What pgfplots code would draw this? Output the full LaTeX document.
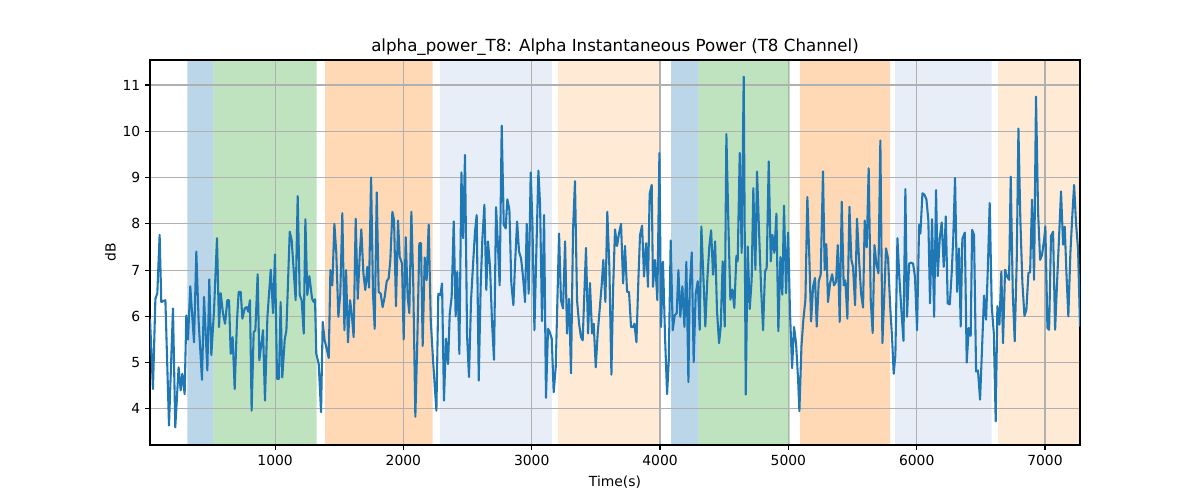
\documentclass[border=0pt]{standalone}
\usepackage{pgfplots}
\pgfplotsset{compat=1.18}
\usepackage{fontspec}
\setmainfont{DejaVu Sans}
\definecolor{tabblue}{HTML}{1F77B4}
\definecolor{tabgreen}{HTML}{2CA02C}
\definecolor{taborange}{HTML}{FF7F0E}
\definecolor{lblue}{HTML}{AEC7E8}
\definecolor{peach}{HTML}{FFBB78}
\definecolor{gridgray}{HTML}{B0B0B0}
\begin{document}
\begin{tikzpicture}
\begin{axis}[
  at={(108pt,39.6pt)}, anchor=south west,
  scale only axis, width=669.6pt, height=277.2pt,
  set layers,
  xmin=25, xmax=7273, ymin=3.22, ymax=11.54,
  xtick={1000,2000,3000,4000,5000,6000,7000},
  ytick={4,5,6,7,8,9,10,11},
  /pgf/number format/1000 sep={},
  /pgf/number format/assume math mode=true,
  tick label style={font=\fontsize{10}{12}\selectfont, black},
  tick align=outside, tick pos=left,
  major tick length=3.5pt,
  every tick/.style={black, line width=0.8pt},
  axis line style={black, line width=0.8pt},
  grid=major,
  major grid style={gridgray, line width=0.8pt},
  title={alpha\_power\_T8: Alpha Instantaneous Power (T8 Channel)},
  title style={font=\fontsize{12}{14}\selectfont, yshift=-6.5pt},
  xlabel={Time(s)}, ylabel={dB},
  label style={font=\fontsize{10}{12}\selectfont},
  xlabel style={yshift=-1pt},
  ylabel style={yshift=-2pt},
  span/.style={on layer=axis background, fill opacity=0.3, draw=none},
]
% shaded phases
\addplot[span, fill=tabblue] coordinates {(316,3.22) (518,3.22) (518,11.54) (316,11.54)} \closedcycle;
\addplot[span, fill=tabgreen] coordinates {(518,3.22) (1324,3.22) (1324,11.54) (518,11.54)} \closedcycle;
\addplot[span, fill=taborange] coordinates {(1389,3.22) (2228,3.22) (2228,11.54) (1389,11.54)} \closedcycle;
\addplot[span, fill=lblue] coordinates {(2285,3.22) (3156,3.22) (3156,11.54) (2285,11.54)} \closedcycle;
\addplot[span, fill=peach] coordinates {(3203,3.22) (4005,3.22) (4005,11.54) (3203,11.54)} \closedcycle;
\addplot[span, fill=tabblue] coordinates {(4086,3.22) (4298,3.22) (4298,11.54) (4086,11.54)} \closedcycle;
\addplot[span, fill=tabgreen] coordinates {(4298,3.22) (5011,3.22) (5011,11.54) (4298,11.54)} \closedcycle;
\addplot[span, fill=taborange] coordinates {(5090,3.22) (5793,3.22) (5793,11.54) (5090,11.54)} \closedcycle;
\addplot[span, fill=lblue] coordinates {(5832,3.22) (6585,3.22) (6585,11.54) (5832,11.54)} \closedcycle;
\addplot[span, fill=peach] coordinates {(6634,3.22) (7273,3.22) (7273,11.54) (6634,11.54)} \closedcycle;
% signal
\addplot[tabblue, line width=1.5pt, line join=round, no markers] coordinates {
(25,5.95)(48,4.43)(67,6.38)(82,6.5)(100,7.76)(113,6.31)(145,6.35)(173,3.64)(204,6.17)(222,3.6)(248,4.9)(264,4.4)(277,4.76)(295,4.32)(308,6.02)(321,5.5)(339,6.65)(368,5.44)(386,7.4)(404,5.9)(430,4.63)(446,6.42)(472,4.83)(487,6.8)(503,5.16)(524,6.13)(547,7.69)(563,5.77)(576,6.5)(594,6.06)(610,5.84)(628,6.35)(641,6.35)(654,5.19)(669,5.55)(685,4.43)(703,5.91)(716,6.53)(732,6.53)(745,5.95)(763,6.17)(778,6.2)(791,6.1)(804,6.35)(817,3.96)(833,5.66)(846,5.7)(864,6.91)(877,5.05)(906,5.7)(921,4.18)(940,5.99)(966,7.01)(984,6.07)(999,7.34)(1015,4.65)(1030,4.65)(1043,6.31)(1056,4.68)(1075,5.5)(1088,5.7)
(1114,7.83)(1129,7.65)(1160,6.35)(1176,8.6)(1192,6.46)(1207,6.35)(1223,5.63)(1236,8.1)(1251,6.46)(1267,6.87)(1288,6.38)(1301,6.31)(1311,6.37)(1321,5.19)(1340,4.97)(1358,3.93)(1371,5.88)(1386,5.48)(1402,5.3)(1418,5.1)(1431,7.0)(1446,6.67)(1462,8.0)(1477,7.36)(1493,5.99)(1508,6.49)(1524,8.23)(1540,5.7)(1553,7.0)(1568,5.44)(1584,6.35)(1597,6.06)(1612,5.55)(1628,8.11)(1644,6.38)(1659,7.29)(1672,7.88)(1688,6.93)(1703,6.57)(1719,7.07)(1732,6.62)(1748,9.0)(1763,6.49)(1776,5.73)(1792,8.68)(1807,6.53)(1823,6.49)(1838,6.2)(1854,6.42)(1870,6.76)(1885,6.82)(1898,7.22)(1914,8.26)(1927,8.08)(1942,6.22)(1958,8.07)(1971,7.29)(1989,7.14)(2002,5.5)(2018,7.71)(2033,6.42)(2046,6.07)(2062,8.26)(2077,6.64)(2093,3.83)(2109,5.55)(2124,7.58)(2137,7.58)(2150,5.36)
(2166,7.27)(2181,6.78)(2197,7.98)(2213,5.91)(2231,5.05)(2257,3.96)(2272,6.49)(2288,6.46)(2301,6.71)(2316,4.18)(2332,5.52)(2348,4.97)(2361,6.06)(2376,6.42)(2392,8.05)(2407,6.0)(2420,6.96)(2436,5.19)(2452,9.11)(2465,7.69)(2480,9.49)(2496,5.59)(2511,4.69)(2527,6.35)(2543,7.14)(2558,7.83)(2571,8.19)(2587,4.61)(2602,6.64)(2615,7.65)(2631,8.41)(2646,6.57)(2659,7.62)(2675,7.07)(2691,5.84)(2706,5.06)(2722,8.36)(2737,7.51)(2750,6.67)(2766,10.12)(2782,7.98)(2797,7.9)(2810,8.53)(2826,8.3)(2841,6.71)(2857,6.24)(2870,7.14)(2886,8.05)(2901,7.4)(2917,7.25)(2932,6.86)(2948,6.31)(2961,8.0)(2976,6.49)(2992,9.11)(3005,8.05)(3021,5.7)(3036,7.4)(3052,9.15)(3065,8.41)(3080,5.9)(3096,8.19)(3111,4.24)(3127,5.73)(3140,5.66)(3156,5.52)(3171,4.36)(3187,4.9)
(3213,7.79)(3228,6.35)(3244,6.17)(3260,7.62)(3275,5.63)(3291,6.38)(3306,4.77)(3322,7.87)(3337,8.92)(3353,6.35)(3369,5.84)(3384,5.55)(3397,5.48)(3410,6.49)(3423,7.48)(3439,5.63)(3454,6.72)(3470,5.63)(3483,5.84)(3499,4.9)(3514,5.63)(3530,6.17)(3545,6.67)(3558,7.22)(3574,6.31)(3589,8.26)(3605,7.07)(3621,4.74)(3634,6.57)(3649,7.88)(3665,7.52)(3680,7.79)(3696,8.0)(3712,6.71)(3727,7.52)(3743,6.53)(3758,6.53)(3774,5.77)(3790,5.77)(3800,5.84)(3816,5.44)(3831,6.78)(3844,7.76)(3860,7.96)(3875,6.86)(3891,7.58)(3906,6.64)(3919,8.65)(3935,8.84)(3945,6.64)(3961,7.22)(3979,6.35)(3995,9.53)(4008,5.77)(4023,7.18)(4039,5.55)(4055,4.32)(4068,5.05)(4083,7.64)(4099,5.7)(4114,6.02)(4130,6.07)(4143,7.0)(4158,5.99)(4174,6.65)(4190,5.77)(4205,7.18)(4221,4.58)
(4231,6.58)(4247,7.38)(4262,5.01)(4278,6.5)(4294,6.76)(4309,5.71)(4322,7.94)(4338,6.83)(4353,5.78)(4369,6.83)(4384,7.51)(4398,7.86)(4413,6.9)(4429,7.62)(4444,6.11)(4460,5.42)(4473,5.78)(4488,7.19)(4504,5.78)(4517,9.94)(4533,7.94)(4548,6.36)(4564,6.58)(4579,6.18)(4595,7.31)(4605,7.19)(4621,9.53)(4636,7.37)(4652,11.18)(4668,4.31)(4683,7.51)(4699,6.16)(4714,6.79)(4727,8.77)(4743,7.01)(4756,9.13)(4772,7.8)(4787,6.65)(4803,5.7)(4818,6.97)(4831,7.04)(4847,9.35)(4863,7.19)(4876,7.76)(4891,7.37)(4907,8.22)(4922,5.68)(4938,7.28)(4953,6.47)(4966,8.39)(4982,6.5)(4998,7.81)(5013,6.07)(5029,4.88)(5044,5.77)(5060,5.42)(5076,4.63)(5086,3.95)(5102,5.35)(5117,5.93)(5133,6.36)(5148,8.58)(5164,7.22)(5177,5.89)(5193,6.65)(5208,6.83)(5221,5.78)(5237,6.76)(5252,6.9)
(5270,9.13)(5283,7.0)(5296,7.56)(5309,6.31)(5325,6.71)(5341,6.91)(5356,6.67)(5372,6.75)(5385,7.54)(5400,5.88)(5416,8.48)(5431,6.67)(5444,6.78)(5460,5.95)(5476,8.37)(5491,7.22)(5504,7.07)(5520,6.24)(5535,8.11)(5551,7.22)(5567,6.49)(5582,6.19)(5595,8.07)(5611,7.49)(5626,9.2)(5642,6.35)(5657,5.64)(5671,7.54)(5686,7.14)(5702,6.93)(5717,9.8)(5733,5.42)(5748,6.49)(5761,7.47)(5777,7.25)(5793,6.24)(5808,5.55)(5821,4.76)(5834,5.16)(5850,7.69)(5865,6.85)(5881,6.13)(5897,5.47)(5912,8.75)(5925,5.99)(5941,7.14)(5956,7.16)(5972,7.14)(5987,6.85)(6003,5.7)(6019,7.98)(6029,7.79)(6045,8.66)(6060,8.63)(6076,8.53)(6091,8.08)(6104,6.28)(6120,8.1)(6136,5.99)(6151,8.73)(6164,6.87)(6180,7.69)(6195,8.03)(6211,7.07)(6227,8.16)(6242,6.28)(6258,6.26)(6273,6.94)(6286,7.76)(6299,8.99)(6315,6.53)(6330,7.47)
(6343,5.78)(6356,7.67)(6375,7.81)(6390,5.0)(6406,5.75)(6421,5.58)(6432,7.87)(6447,7.76)(6463,4.81)(6478,4.83)(6494,4.2)(6510,5.35)(6525,6.45)(6541,5.93)(6556,7.15)(6569,8.45)(6585,6.22)(6601,5.64)(6616,3.73)(6629,6.22)(6645,5.82)(6660,6.97)(6673,5.42)(6689,7.01)(6705,6.86)(6720,6.79)(6733,9.02)(6749,6.5)(6764,5.46)(6780,7.22)(6793,10.06)(6808,8.09)(6824,6.72)(6840,6.01)(6855,6.14)(6871,6.94)(6884,6.95)(6899,8.52)(6915,6.79)(6930,10.75)(6946,8.27)(6962,7.22)(6977,7.33)(6993,7.65)(7003,7.94)(7019,5.75)(7032,5.71)(7047,7.74)(7063,7.83)(7079,5.71)(7094,6.72)(7110,7.73)(7125,8.7)(7141,7.55)(7154,7.94)(7167,6.94)(7182,6.0)(7198,7.37)(7214,8.23)(7227,8.84)(7242,8.01)(7258,7.44)(7273,5.78)
};
\end{axis}
\path (0,0) rectangle (864pt,360pt);
\end{tikzpicture}
\end{document}
